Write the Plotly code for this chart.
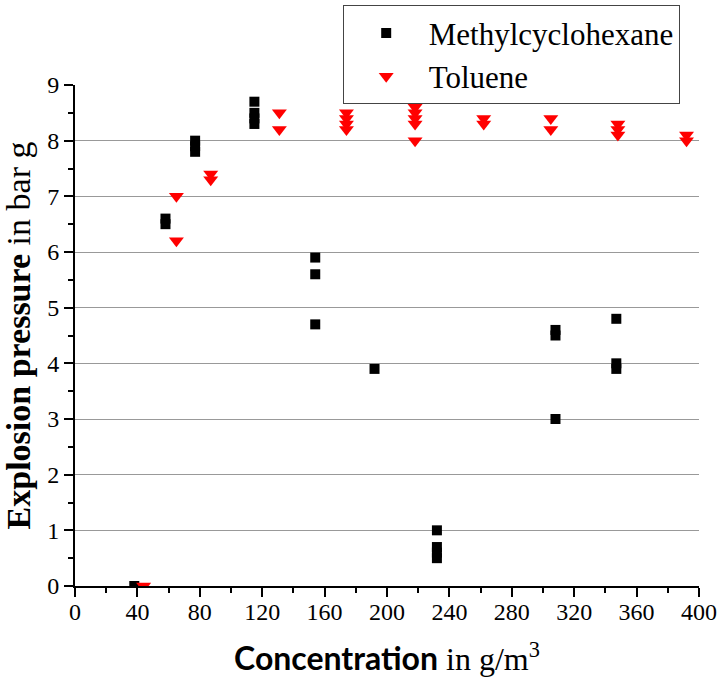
import plotly.graph_objects as go

# Methylcyclohexane (black squares)
mch_x = [38, 58, 58, 77, 77, 77, 115, 115, 115, 115, 154, 154, 154, 192,
         232, 232, 232, 232, 308, 308, 308, 347, 347, 347]
mch_y = [0.0, 6.6, 6.5, 8.0, 7.9, 7.8, 8.7, 8.5, 8.4, 8.3, 5.9, 5.6, 4.7, 3.9,
         1.0, 0.7, 0.6, 0.5, 4.6, 4.5, 3.0, 4.8, 4.0, 3.9]

# Toluene (red down triangles)
tol_x = [44, 65, 65, 87, 87, 131, 131, 174, 174, 174, 174,
         218, 218, 218, 218, 218, 262, 262, 305, 305, 348, 348, 348, 392, 392]
tol_y = [0.0, 7.0, 6.2, 7.4, 7.3, 8.5, 8.2, 8.5, 8.4, 8.3, 8.2,
         8.6, 8.5, 8.4, 8.3, 8.0, 8.4, 8.3, 8.4, 8.2, 8.3, 8.2, 8.1, 8.1, 8.0]

x_ticks = list(range(0, 401, 40))
y_ticks = list(range(0, 10))
grid_vals = list(range(1, 9))

SERIF = "'Liberation Serif', 'Times New Roman', serif"

fig = go.Figure()
fig.add_trace(go.Scatter(
    x=mch_x, y=mch_y, mode="markers", name="Methylcyclohexane",
    marker=dict(symbol="square", size=10, color="black", line=dict(width=0)),
))
fig.add_trace(go.Scatter(
    x=tol_x, y=tol_y, mode="markers", name="Toluene",
    marker=dict(symbol="triangle-down", size=13, color="#ff0000", line=dict(width=0)),
))

fig.update_layout(
    width=721, height=677,
    margin=dict(l=75, r=22, t=85, b=91, autoexpand=False),
    paper_bgcolor="white", plot_bgcolor="white",
    font=dict(family=SERIF, size=24, color="black"),
    showlegend=True,
    legend=dict(
        x=0.429, y=1.159, xanchor="left", yanchor="top",
        bordercolor="#444444", borderwidth=1, bgcolor="white",
        font=dict(family=SERIF, size=31, color="black"),
        itemwidth=75, tracegroupgap=0,
    ),
    xaxis=dict(
        range=[0, 400], tickvals=x_ticks, ticktext=[str(v) for v in x_ticks],
        showgrid=False, zeroline=False, automargin=False,
        showline=True, linecolor="black", linewidth=2,
        ticks="outside", ticklen=9, tickwidth=2, tickcolor="black",
        ticklabelstandoff=-6,
        minor=dict(dtick=20, ticks="outside", ticklen=5, tickwidth=2, tickcolor="black", showgrid=False),
        tickfont=dict(family=SERIF, size=24),
        title=dict(
            text="<span style='font-family:Lato;font-weight:bold'>Concentration</span> in g/m<sup>3</sup>",
            font=dict(family=SERIF, size=32), standoff=25,
        ),
    ),
    yaxis=dict(
        range=[0, 9], tickvals=y_ticks, ticktext=[str(v) for v in y_ticks],
        showgrid=False, zeroline=False, automargin=False,
        showline=True, linecolor="black", linewidth=2,
        ticks="outside", ticklen=9, tickwidth=2, tickcolor="black",
        minor=dict(dtick=0.5, ticks="outside", ticklen=5, tickwidth=2, tickcolor="black", showgrid=False),
        tickfont=dict(family=SERIF, size=24),
        title=dict(text="<b>Explosion pressure</b> in bar g",
                   font=dict(family=SERIF, size=34), standoff=6),
    ),
    yaxis2=dict(
        overlaying="y", range=[0, 9], tickvals=grid_vals, automargin=False,
        showgrid=True, gridcolor="#999999", gridwidth=1,
        showticklabels=False, ticks="", zeroline=False, showline=False,
        layer="below traces",
    ),
)

# empty trace bound to the grid axis so it is drawn
fig.add_trace(go.Scatter(x=[0], y=[0], yaxis="y2", mode="markers",
                         marker=dict(size=0, opacity=0), showlegend=False, hoverinfo="skip"))

fig.write_html("out.html")
